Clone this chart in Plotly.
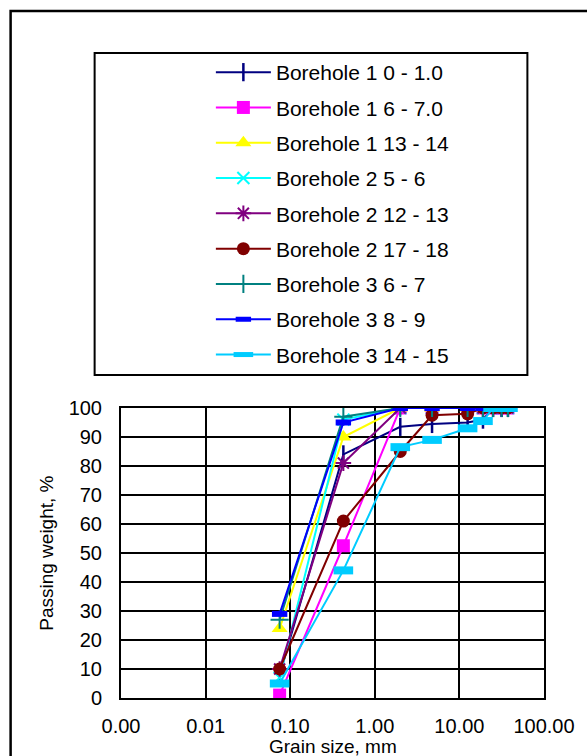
import plotly.graph_objects as go

# Sieve openings (mm)
sieve_mm = [0.075, 0.425, 2.0, 4.75, 12.5, 19.0, 25.0, 31.5, 37.5]

series_names = [
    "Borehole 1 0 - 1.0",
    "Borehole 1 6 - 7.0",
    "Borehole 1 13 - 14",
    "Borehole 2 5 - 6",
    "Borehole 2 12 - 13",
    "Borehole 2 17 - 18",
    "Borehole 3 6 - 7",
    "Borehole 3 8 - 9",
    "Borehole 3 14 - 15",
]

# Percent passing for each sample
bh1_0_1 = [8, 84, 93.5, 94.5, 95, 96, 100, 100, 100]
bh1_6_7 = [1, 52.5, 100, 100, 100, 100, 100, 100, 100]
bh1_13_14 = [24, 90, 100, 100, 100, 100, 100, 100, 100]
bh2_5_6 = [7, 96, 100, 100, 100, 100, 100, 100, 100]
bh2_12_13 = [10, 81, 100, 100, 100, 100, 100, 100, 100]
bh2_17_18 = [10, 61, 85, 97.5, 98, 100, 100, 100, 100]
bh3_6_7 = [27, 97, 100, 100, 100, 100, 100, 100, 100]
bh3_8_9 = [29, 95, 100, 100, 100, 100, 100, 100, 100]
bh3_14_15 = [5, 44, 86.5, 89, 93, 95.5, 100, 100, 100]

x_tickvals = [0.001, 0.01, 0.1, 1, 10, 100]
x_ticktext = ["0.00", "0.01", "0.10", "1.00", "10.00", "100.00"]
y_tickvals = list(range(0, 101, 10))

values = [bh1_0_1, bh1_6_7, bh1_13_14, bh2_5_6, bh2_12_13,
          bh2_17_18, bh3_6_7, bh3_8_9, bh3_14_15]

styles = [
    dict(color="#000080", symbol="line-ns", size=13, mlw=2.5),
    dict(color="#FF00FF", symbol="square", size=13, mlw=0),
    dict(color="#FFFF00", symbol="triangle-up", size=14, mlw=0),
    dict(color="#00FFFF", symbol="x-thin", size=12, mlw=2),
    dict(color="#800080", symbol="asterisk", size=13, mlw=2),
    dict(color="#800000", symbol="circle", size=13, mlw=0),
    dict(color="#008080", symbol="cross-thin", size=13, mlw=2),
    dict(color="#0000FF", symbol="line-ew", size=11, mlw=6),
    dict(color="#00CCFF", symbol="line-ew", size=14, mlw=8),
]

FONT = "Arial, Liberation Sans, sans-serif"

fig = go.Figure()
for i, (name, ys, st) in enumerate(zip(series_names, values, styles)):
    fig.add_trace(go.Scatter(
        x=sieve_mm, y=ys, name=name, mode="lines+markers",
        legendgroup=f"g{i}",
        line=dict(color=st["color"], width=2),
        marker=dict(symbol=st["symbol"], size=st["size"], color=st["color"],
                    line=dict(color=st["color"], width=st["mlw"])),
    ))

W, H = 587, 756
L, R, T, B = 121, 33, 408, 58
pw, ph = W - L - R, H - T - B


def px_x(p):
    return (p - L) / pw


def px_y(p):
    return (H - B - p) / ph


fig.update_layout(
    width=W, height=H,
    margin=dict(l=L, r=R, t=T, b=B),
    paper_bgcolor="white", plot_bgcolor="white",
    font=dict(family=FONT, size=20, color="black"),
    showlegend=True,
    legend=dict(
        x=px_x(213), y=px_y(52), xanchor="left", yanchor="top",
        traceorder="grouped", tracegroupgap=5,
        font=dict(family=FONT, size=21, color="black"),
        bgcolor="rgba(0,0,0,0)", borderwidth=0,
        itemwidth=55,
    ),
    xaxis=dict(
        type="log", range=[-3, 2],
        tickvals=x_tickvals, ticktext=x_ticktext,
        showgrid=True, gridcolor="black", gridwidth=2,
        showline=True, linecolor="black", linewidth=2, mirror=True,
        ticks="outside", ticklen=9, tickcolor="rgba(0,0,0,0)",
        zeroline=False,
        tickfont=dict(family=FONT, size=20),
    ),
    yaxis=dict(
        range=[0, 100], tickvals=y_tickvals,
        showgrid=True, gridcolor="black", gridwidth=2,
        showline=True, linecolor="black", linewidth=2, mirror=True,
        ticks="outside", ticklen=13, tickcolor="rgba(0,0,0,0)",
        zeroline=False,
        tickfont=dict(family=FONT, size=20),
    ),
    shapes=[
        # outer chart frame
        dict(type="rect", xref="paper", yref="paper",
             x0=px_x(8), x1=px_x(620), y0=px_y(11), y1=px_y(790),
             line=dict(color="black", width=2.5), layer="below"),
        # legend frame
        dict(type="rect", xref="paper", yref="paper",
             x0=px_x(94), x1=px_x(537), y0=px_y(53), y1=px_y(375),
             line=dict(color="black", width=2), layer="below"),
    ],
    annotations=[
        dict(text="Grain size, mm", xref="paper", yref="paper",
             x=0.5, y=px_y(746), xanchor="center", yanchor="middle",
             showarrow=False, font=dict(family=FONT, size=19)),
        dict(text="Passing weight, %", xref="paper", yref="paper",
             x=px_x(44), y=0.5, xanchor="center", yanchor="middle",
             textangle=-90, showarrow=False, font=dict(family=FONT, size=19)),
    ],
)

fig.write_html("out.html")
